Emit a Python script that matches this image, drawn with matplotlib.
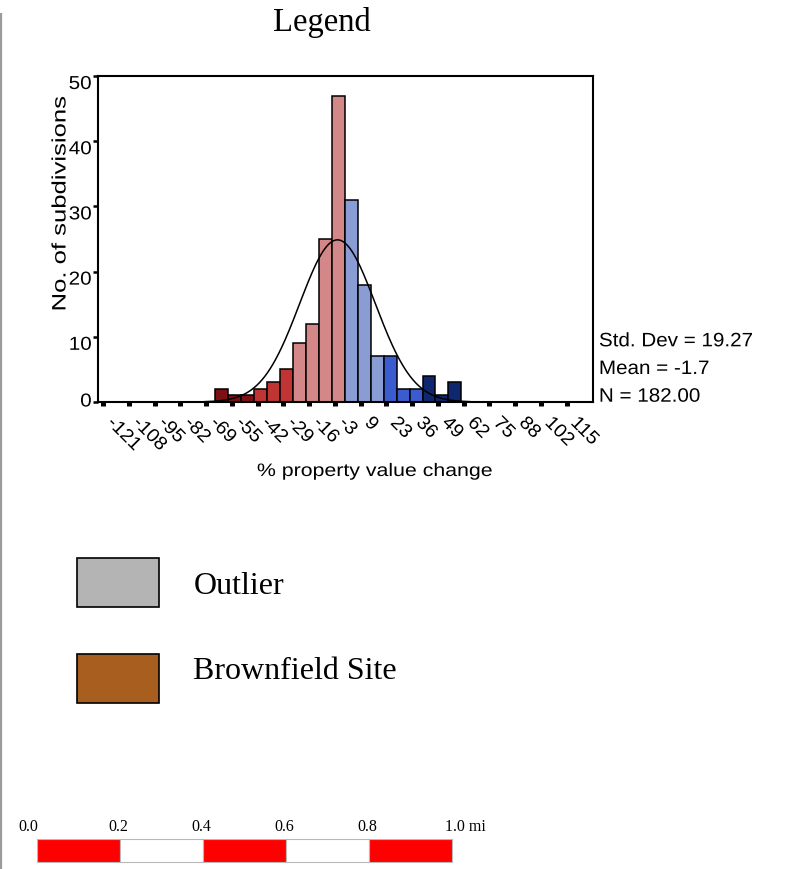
import numpy as np
import matplotlib
matplotlib.use("Agg")
import matplotlib.pyplot as plt
from matplotlib.patches import Rectangle
from matplotlib.patheffects import AbstractPathEffect
from matplotlib.transforms import Affine2D, ScaledTranslation, blended_transform_factory

plt.rcParams["font.family"] = ["Liberation Sans", "DejaVu Sans"]

# ---- histogram data: % property value change per subdivision ----
bin_start = -64.0
bin_width = 6.6
counts = [2, 1, 1, 2, 3, 5, 9, 12, 25, 47, 31, 18, 7, 7, 2, 2, 4, 1, 3]
bin_class = [0, 0, 0, 1, 1, 1, 2, 2, 2, 2, 3, 3, 3, 4, 4, 4, 5, 5, 5]
class_colors = ["#7d1015", "#c03434", "#d38788", "#8a9cd4", "#3b5cce", "#0f276f"]

x_tick_labels = ["-121", "-108", "-95", "-82", "-69", "-55", "-42", "-29", "-16",
                 "-3", "9", "23", "36", "49", "62", "75", "88", "102", "115"]
y_ticks = [0, 10, 20, 30, 40, 50]

std_dev = 19.27
mean = -1.7
n_total = 182

# ---- map legend ----
legend_labels = ["Outlier", "Brownfield Site"]
legend_colors = ["#b4b4b4", "#a85e1e"]

# ---- scale bar ----
scale_values = [0.0, 0.2, 0.4, 0.6, 0.8, 1.0]
scale_unit = "mi"


class Widen(AbstractPathEffect):
    """Stretch glyph outlines along the text baseline about one edge."""

    def __init__(self, factor, anchor="left"):
        super().__init__()
        self.factor = factor
        self.anchor = anchor

    def draw_path(self, renderer, gc, tpath, affine, rgbFace=None):
        ext = tpath.get_extents()
        x0 = {"left": ext.x0, "center": 0.5 * (ext.x0 + ext.x1), "right": ext.x1}[self.anchor]
        pre = Affine2D().translate(-x0, 0).scale(self.factor, 1.0).translate(x0, 0)
        renderer.draw_path(gc, tpath, pre + affine, rgbFace)


W, H = 787, 870
fig = plt.figure(figsize=(W / 100, H / 100), dpi=100)


def frac(x0, y0, x1, y1):
    return [x0 / W, 1 - y1 / H, (x1 - x0) / W, (y1 - y0) / H]


# page-level overlay in pixel units
ov = fig.add_axes([0, 0, 1, 1])
ov.set_xlim(0, W)
ov.set_ylim(H, 0)
ov.axis("off")
ov.plot([1.2, 1.2], [14, H], color="#9a9a9a", lw=1.6, solid_capstyle="butt")

ov.text(321.7, 30.7, "Legend", family="Liberation Serif", fontsize=23.5,
        ha="center", va="baseline")

# ---- histogram ----
ax = fig.add_axes(frac(97.5, 77, 593, 403))
ax.set_xlim(-123.9, 128.4)
ax.set_ylim(0, 50)

lefts = bin_start + bin_width * np.arange(len(counts))
ax.bar(lefts, counts, width=bin_width, align="edge",
       color=[class_colors[c] for c in bin_class],
       edgecolor="black", linewidth=1.1, zorder=2)

xs = np.linspace(mean - 3.5 * std_dev, mean + 3.5 * std_dev, 400)
scale = n_total * bin_width / (std_dev * np.sqrt(2 * np.pi))
ax.plot(xs, scale * np.exp(-0.5 * ((xs - mean) / std_dev) ** 2),
        color="black", lw=1.1, zorder=3)

for s in ax.spines.values():
    s.set_linewidth(1.5)

tick_pos = np.linspace(float(x_tick_labels[0]), float(x_tick_labels[-1]), len(x_tick_labels))
ax.set_xticks(tick_pos)
ax.set_xticklabels(x_tick_labels)
ax.set_yticks(y_ticks)
ax.set_yticklabels([str(v) for v in y_ticks])
ax.tick_params(axis="x", direction="out", length=3, width=3.6, pad=10.2, labelsize=13.5)
ax.tick_params(axis="y", direction="out", length=3.6, width=1.8, pad=0.6, labelsize=13.5)

shift = ScaledTranslation(0.065, 0, fig.dpi_scale_trans)
for lbl in ax.get_xticklabels():
    lbl.set_rotation(-45)
    lbl.set_rotation_mode("anchor")
    lbl.set_ha("left")
    lbl.set_va("center")
    lbl.set_transform(lbl.get_transform() + shift)
    lbl.set_path_effects([Widen(1.05, "left")])
for lbl, v in zip(ax.get_yticklabels(), y_ticks):
    lbl.set_va("center" if v == 0 else "top")
    lbl.set_path_effects([Widen(1.1, "right")])

# axis titles
ov.text(374.5, 477, "% property value change", fontsize=13, ha="center", va="baseline",
        path_effects=[Widen(1.18, "center")])
ov.text(61, 204, "No. of subdivisions", fontsize=14, rotation=90, ha="center", va="center",
        path_effects=[Widen(1.32, "center")])

# summary statistics
stats = [f"Std. Dev = {std_dev:.2f}", f"Mean = {mean:.1f}", f"N = {n_total:.2f}"]
for i, line in enumerate(stats):
    ov.text(599, 347.3 + 27.7 * i, line, fontsize=14, ha="left", va="baseline",
            path_effects=[Widen(1.06, "left")])

# ---- legend swatches ----
swatch_top = [559.3, 655.0]
text_base = [594.3, 679.3]
for label, color, top, base in zip(legend_labels, legend_colors, swatch_top, text_base):
    ov.add_patch(Rectangle((77.3, top), 81.7, 49, facecolor=color,
                           edgecolor="black", linewidth=1.2))
    ov.text(193.3, base, label, family="Liberation Serif", fontsize=23,
            ha="left", va="baseline")

# ---- scale bar ----
sb = fig.add_axes(frac(36.7, 840, 452.3, 863.3))
sb.set_xlim(scale_values[0], scale_values[-1])
sb.set_ylim(0, 1)
sb.axis("off")
for i, (a, b) in enumerate(zip(scale_values[:-1], scale_values[1:])):
    sb.add_patch(Rectangle((a, 0), b - a, 1, facecolor="#fe0000" if i % 2 == 0 else "white",
                           edgecolor="#b8b8b8", linewidth=0.8, clip_on=False))

lab_tr = blended_transform_factory(sb.transData, ov.transData)
for i, v in enumerate(scale_values):
    txt = f"{v:.1f}"
    if i == 0:
        ov.text(v + 0.004, 831.5, txt, transform=lab_tr, family="Liberation Serif",
                fontsize=11.5, ha="right", va="baseline")
    elif i == len(scale_values) - 1:
        ov.text(v - 0.018, 831.5, f"{txt} {scale_unit}", transform=lab_tr,
                family="Liberation Serif", fontsize=11.5, ha="left", va="baseline")
    else:
        ov.text(v - 0.004, 831.5, txt, transform=lab_tr, family="Liberation Serif",
                fontsize=11.5, ha="center", va="baseline")

fig.savefig("out.png", dpi=100)
